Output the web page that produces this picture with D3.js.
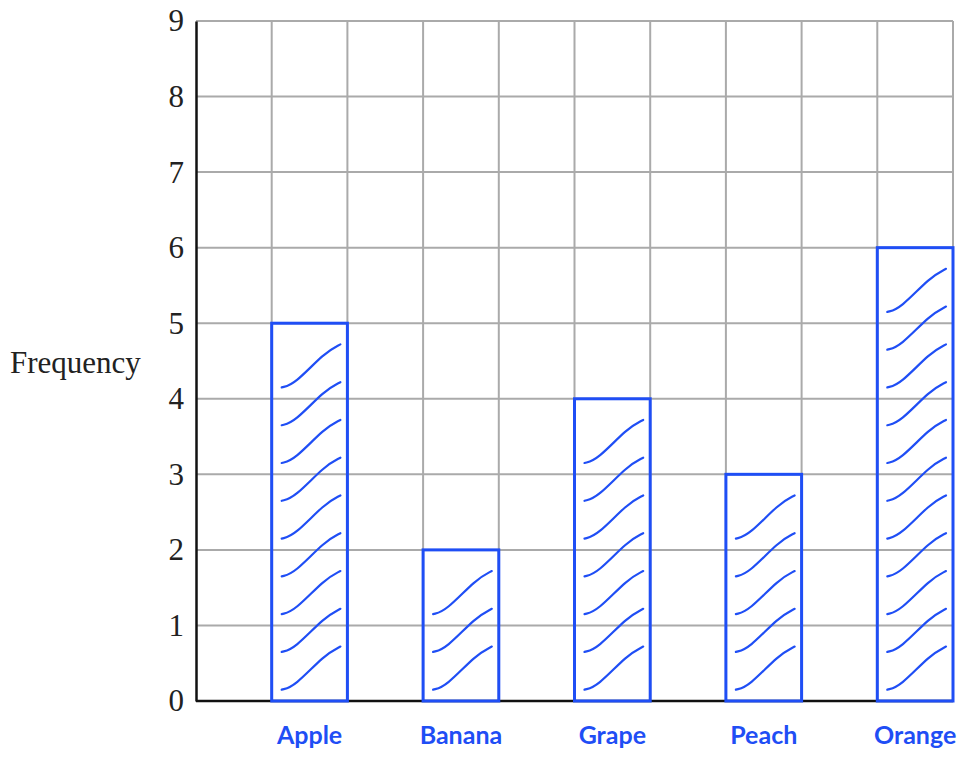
<!DOCTYPE html>
<html>
<head>
<meta charset="utf-8">
<script src="https://cdn.jsdelivr.net/npm/d3@7"></script>
<style>
  body { margin: 0; background: #fff; }
  svg { display: block; }
</style>
</head>
<body>
<svg id="chart" width="965" height="757"></svg>
<script>
// data
const fruits = ["Apple", "Banana", "Grape", "Peach", "Orange"];
const frequency = [5, 2, 4, 3, 6];
const yTicks = [0, 1, 2, 3, 4, 5, 6, 7, 8, 9];

const plotL = 196, plotR = 953, plotT = 21, plotB = 701;
const blue = "#1f4ef5";

const svg = d3.select("#chart");

const x = d3.scaleBand().domain(fruits).range([plotL, plotR]);
const grid = d3.scaleLinear().domain([0, 10]).range([plotL, plotR]);
const y = d3.scaleLinear().domain([0, 9]).range([plotB, plotT]);

// grid
svg.append("g").selectAll("line")
  .data(yTicks.slice(1))
  .join("line")
  .attr("x1", plotL).attr("x2", plotR)
  .attr("y1", d => y(d)).attr("y2", d => y(d))
  .attr("stroke", "#aaaaaa").attr("stroke-width", 2);

svg.append("g").selectAll("line")
  .data(d3.range(1, 11))
  .join("line")
  .attr("x1", d => grid(d)).attr("x2", d => grid(d))
  .attr("y1", plotT).attr("y2", plotB)
  .attr("stroke", "#aaaaaa").attr("stroke-width", 2);

// y axis
const yAxis = svg.append("g")
  .attr("transform", `translate(${plotL},0)`)
  .call(d3.axisLeft(y).tickValues(yTicks).tickSize(0).tickPadding(12));
yAxis.select(".domain").attr("stroke", "#111").attr("stroke-width", 2.5);
yAxis.selectAll("text")
  .attr("font-family", "Liberation Serif, serif")
  .attr("font-size", 31)
  .attr("fill", "#222");

// x axis line
svg.append("line")
  .attr("x1", plotL).attr("x2", plotR)
  .attr("y1", plotB).attr("y2", plotB)
  .attr("stroke", "#111").attr("stroke-width", 2.5);

svg.append("text")
  .attr("x", 10).attr("y", 373)
  .attr("font-family", "Liberation Serif, serif")
  .attr("font-size", 31)
  .attr("fill", "#222")
  .text("Frequency");

// bars
const bw = x.bandwidth() / 2;
const bars = svg.append("g").selectAll("g")
  .data(fruits.map((f, i) => ({ f, v: frequency[i] })))
  .join("g");

bars.append("rect")
  .attr("x", d => x(d.f) + bw)
  .attr("y", d => y(d.v))
  .attr("width", bw)
  .attr("height", d => y(0) - y(d.v))
  .attr("fill", "none")
  .attr("stroke", blue)
  .attr("stroke-width", 3);

// hand hatch strokes, about two per unit, kept inside the bar
const curve = d3.line().curve(d3.curveBasis);
bars.each(function (d) {
  const g = d3.select(this);
  const x0 = x(d.f) + bw;
  const n = Math.round(d.v * 2) - 1;
  for (let k = 0; k < n; k++) {
    const yb = y(k * 0.5 + 0.15);
    const yt = y(k * 0.5 + 0.72);
    const pts = [
      [x0 + 10, yb],
      [x0 + bw * 0.3, yb - 3],
      [x0 + bw * 0.7, yt + 8],
      [x0 + bw - 7, yt]
    ];
    g.append("path")
      .attr("d", curve(pts))
      .attr("fill", "none")
      .attr("stroke", blue)
      .attr("stroke-width", 2.2)
      .attr("stroke-linecap", "round");
  }
});

// category labels
svg.append("g").selectAll("text")
  .data(fruits)
  .join("text")
  .attr("x", d => x(d) + bw * 1.5)
  .attr("y", 744)
  .attr("text-anchor", "middle")
  .attr("font-family", "Lato, sans-serif")
  .attr("font-weight", "bold")
  .attr("font-size", 25)
  .attr("fill", blue)
  .text(d => d);
</script>
</body>
</html>
